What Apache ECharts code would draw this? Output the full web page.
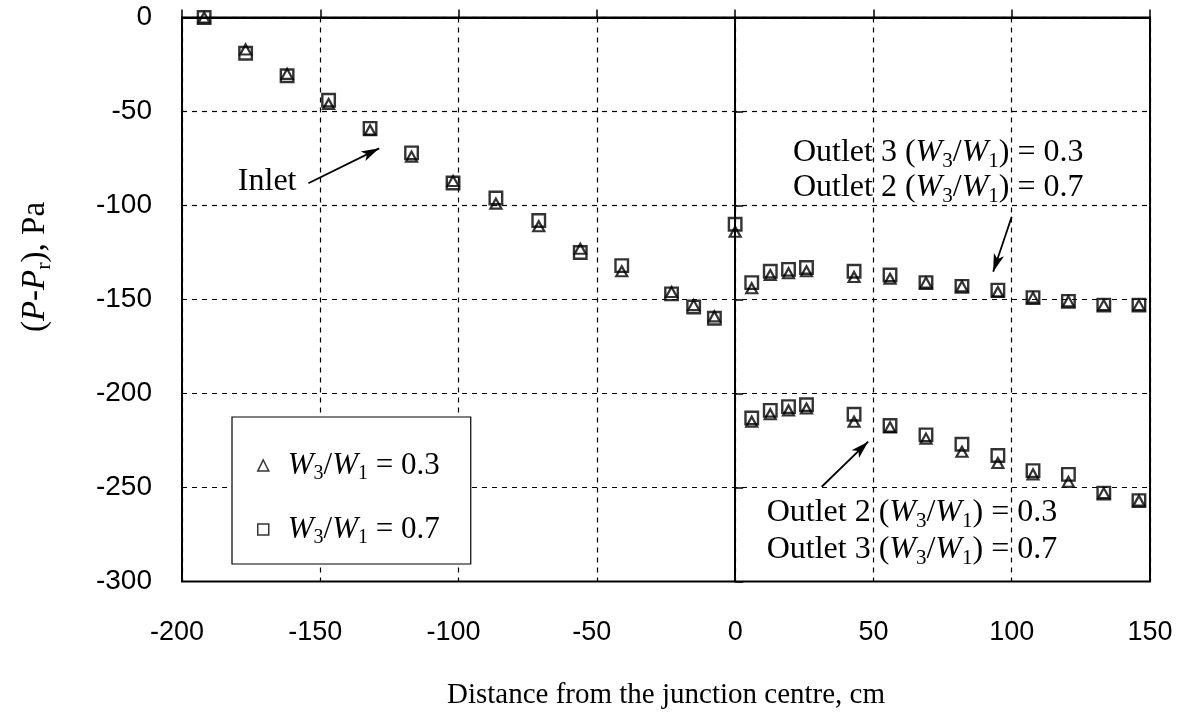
<!DOCTYPE html>
<html>
<head>
<meta charset="utf-8">
<script src="https://cdn.jsdelivr.net/npm/echarts@6/dist/echarts.min.js"></script>
<style>
  html, body { margin: 0; padding: 0; background: #fff; }
  #chart { width: 1186px; height: 717px; }
</style>
</head>
<body>
<div id="chart"></div>
<script>
// Pressure relative to the reference point along the junction, P - Pr (Pa)
// x: distance from the junction centre (cm)
const xInlet = [-192, -177, -162, -147, -132, -117, -102, -86.5, -71, -56, -41, -23, -15, -7.5, 0];
const inletRatio03 = [0, -17, -30, -46, -60, -74, -87, -99, -111, -123, -135, -146, -153, -159, -114];
const inletRatio07 = [0, -19, -31, -44, -59, -72, -88, -96, -108, -125, -132, -147, -154, -160, -110];

const xOutlet = [6, 12.7, 19.3, 25.8, 43, 56, 69, 82, 95, 107.7, 120.5, 133.3, 146];
// Upper branch: outlet 3 at W3/W1 = 0.3, outlet 2 at W3/W1 = 0.7
const upperRatio03 = [-144, -137, -136, -135, -138, -139, -141, -143, -146, -149, -151, -153, -153];
const upperRatio07 = [-141, -135, -134, -133, -135, -137, -141, -143, -145, -149, -151, -153, -153];
// Lower branch: outlet 2 at W3/W1 = 0.3, outlet 3 at W3/W1 = 0.7
const lowerRatio03 = [-215, -211, -209, -208, -215, -218, -224, -231, -237, -243, -247, -253, -257];
const lowerRatio07 = [-213, -209, -207, -206, -211, -217, -222, -227, -233, -241, -243, -253, -257];

const seriesNames = ['W3/W1 = 0.3', 'W3/W1 = 0.7'];

function pairs(xs, ys) { return xs.map((x, i) => [x, ys[i]]); }

const serif = '"Liberation Serif", "Times New Roman", serif';
const sans = '"Liberation Sans", Arial, sans-serif';

function ratioRich(size) {
  return {
    n: { fontFamily: serif, fontSize: size, color: '#000' },
    i: { fontFamily: serif, fontSize: size, fontStyle: 'italic', color: '#000' },
    s: { fontFamily: serif, fontSize: Math.round(size * 0.66), color: '#000',
         verticalAlign: 'bottom', lineHeight: Math.round(size * 1.2) }
  };
}

const chart = echarts.init(document.getElementById('chart'), null, { renderer: 'canvas' });

const option = {
  animation: false,
  backgroundColor: '#fff',
  grid: {
    left: 182, right: 36, top: 17.5, bottom: 135.5,
    show: true, borderColor: '#000', borderWidth: 2, backgroundColor: 'transparent'
  },
  legend: {
    data: seriesNames,
    orient: 'vertical',
    left: 232, top: 417,
    padding: [33, 31, 16, 25],
    itemGap: 30,
    itemWidth: 11, itemHeight: 11,
    borderColor: '#000', borderWidth: 1.2,
    backgroundColor: '#fff',
    itemStyle: { borderWidth: 1.5, borderColor: '#000', color: 'transparent' },
    formatter: name => name === seriesNames[0]
      ? '{i|W}{s|3}{n|/}{i|W}{s|1}{n| = 0.3}'
      : '{i|W}{s|3}{n|/}{i|W}{s|1}{n| = 0.7}',
    textStyle: { rich: ratioRich(31), padding: [0, 0, 0, 14] }
  },
  xAxis: {
    type: 'value', min: -200, max: 150, interval: 50,
    name: 'Distance from the junction centre, cm',
    nameLocation: 'middle', nameGap: 99,
    nameTextStyle: { fontFamily: serif, fontSize: 29, color: '#000' },
    axisLine: { lineStyle: { color: '#000', width: 2 } },
    axisTick: { inside: true, length: 8, lineStyle: { color: '#000', width: 1.5 } },
    axisLabel: {
      margin: 38, fontFamily: sans, fontSize: 27, color: '#000',
      formatter: v => v < 0 ? '{neg|' + v + '}' : String(v),
      rich: { neg: { fontFamily: sans, fontSize: 27, color: '#000', padding: [0, 10, 0, 0] } }
    },
    splitLine: { show: true, lineStyle: { color: '#000', width: 1.2, type: [5, 5] } }
  },
  yAxis: {
    type: 'value', min: -300, max: 0, interval: 50,
    axisLine: { lineStyle: { color: '#000', width: 2 } },
    axisTick: { inside: true, length: 8, lineStyle: { color: '#000', width: 1.5 } },
    axisLabel: { margin: 30, fontFamily: sans, fontSize: 28, color: '#000' },
    splitLine: { show: true, lineStyle: { color: '#000', width: 1.2, type: [5, 5] } }
  },
  series: [
    {
      name: seriesNames[1], type: 'scatter', z: 3,
      symbol: 'rect', symbolSize: 12.5,
      itemStyle: { color: 'transparent', borderColor: '#000', borderWidth: 2.4 },
      data: pairs(xInlet, inletRatio07)
        .concat(pairs(xOutlet, upperRatio07))
        .concat(pairs(xOutlet, lowerRatio07))
    },
    {
      name: seriesNames[0], type: 'scatter', z: 4,
      symbol: 'triangle', symbolSize: [11, 10],
      itemStyle: { color: 'transparent', borderColor: '#000', borderWidth: 2.2 },
      data: pairs(xInlet, inletRatio03)
        .concat(pairs(xOutlet, upperRatio03))
        .concat(pairs(xOutlet, lowerRatio03))
    },
    {
      // junction centre line and the pointer arrows
      name: 'guides', type: 'line', data: [], silent: true,
      markLine: {
        silent: true, animation: false,
        label: { show: false },
        data: [
          [{ coord: [0, 0], symbol: 'none', lineStyle: { width: 2 } },
           { coord: [0, -300], symbol: 'none' }],
          [{ coord: [-154.3, -88.2], symbol: 'none' }, { coord: [-128.7, -69.6], symbol: 'arrow' }],
          [{ coord: [100, -106], symbol: 'none' }, { coord: [93.3, -135.2], symbol: 'arrow' }],
          [{ coord: [31.3, -249.6], symbol: 'none' }, { coord: [48.1, -225.6], symbol: 'arrow' }]
        ],
        symbolSize: [8, 18],
        lineStyle: { color: '#000', width: 1.8, type: 'solid' }
      }
    }
  ]
};
chart.setOption(option);

// Text annotations anchored in data units (left edge, vertical centre)
const notes = [
  { at: [-179.8, -87.3], text: 'Inlet' },
  { at: [20.9, -72.1], text: 'Outlet 3 ({i|W}{s|3}{n|/}{i|W}{s|1}{n|) = 0.3}' },
  { at: [20.9, -90.7], text: 'Outlet 2 ({i|W}{s|3}{n|/}{i|W}{s|1}{n|) = 0.7}' },
  { at: [11.4, -263.6], text: 'Outlet 2 ({i|W}{s|3}{n|/}{i|W}{s|1}{n|) = 0.3}' },
  { at: [11.4, -283.2], text: 'Outlet 3 ({i|W}{s|3}{n|/}{i|W}{s|1}{n|) = 0.7}' }
];
const noteGraphics = notes.map(n => {
  const p = chart.convertToPixel({ gridIndex: 0 }, n.at);
  return {
    type: 'text', x: p[0], y: p[1], z: 10, silent: true,
    style: {
      text: n.text, fill: '#000',
      font: '32px ' + serif,
      align: 'left', verticalAlign: 'middle',
      rich: ratioRich(32)
    }
  };
});

// Vertical axis title
const yTitle = {
  type: 'text', x: 35, y: 267, rotation: Math.PI / 2, z: 10, silent: true,
  style: {
    text: '(' + '{i|P}-{i|P}{s|r}), Pa', fill: '#000',
    font: '33px ' + serif,
    align: 'center', verticalAlign: 'middle',
    rich: ratioRich(33)
  }
};

chart.setOption({ graphic: noteGraphics.concat([yTitle]) });
</script>
</body>
</html>
